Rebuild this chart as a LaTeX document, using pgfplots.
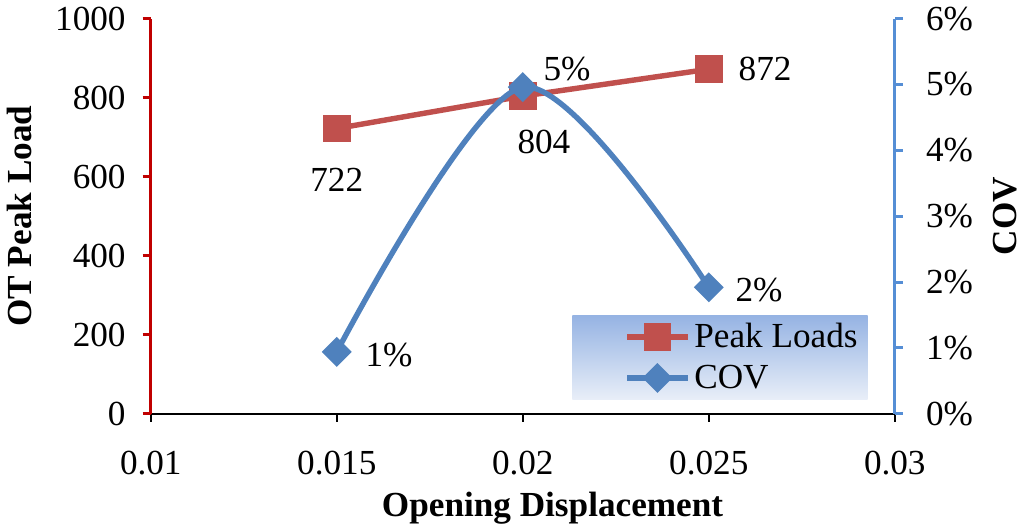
\documentclass[border=0pt]{standalone}
\usepackage{fontspec}
\setmainfont{Liberation Serif}
\usepackage{pgfplots}
\usepackage{pgfplotstable}
\pgfplotsset{compat=1.18}

\definecolor{loadred}{HTML}{C0504D}
\definecolor{covblue}{HTML}{4F81BD}
\definecolor{axred}{HTML}{C00000}
\definecolor{axblue}{HTML}{558ED5}
\definecolor{legtop}{HTML}{95B3E3}
\definecolor{legbot}{HTML}{E8EEF8}

% peak loads, with label offsets (pt)
\pgfplotstableread{
x     load  dx    dy     lab
0.015 722   0     -25.5  722
0.020 804   10.5  -23    804
0.025 872   28    0      872
}\loadtable

% COV in percent
\pgfplotstableread{
x     cov   dx   dy    lab
0.015 0.94  26   -1.5  1
0.020 4.96  22   9     5
0.025 1.92  25   -1.5  2
}\covtable

\pgfplotsset{
  common/.style={
    scale only axis, width=370pt, height=196.5pt,
    xmin=0.01, xmax=0.03,
    tick align=outside, major tick length=4pt,
    clip=false,
    scaled x ticks=false, scaled y ticks=false,
    /pgf/number format/assume math mode=true,
    /pgf/number format/1000 sep={},
  },
  labels/.style={
    visualization depends on={\thisrow{dx} \as \labdx},
    visualization depends on={\thisrow{dy} \as \labdy},
    nodes near coords style={anchor=center, xshift=\labdx, yshift=\labdy, text=black},
  },
}

\begin{document}
\begin{tikzpicture}[font=\fontsize{17.5}{20}\selectfont]
\begin{axis}[
  common,
  ymin=0, ymax=1000,
  axis x line*=bottom, axis y line*=left,
  xtick={0.01,0.015,0.02,0.025,0.03},
  xticklabels={0.01,0.015,0.02,0.025,0.03},
  ytick={0,200,...,1000},
  x axis line style={black, line width=1pt, -},
  y axis line style={axred, line width=1.5pt, -},
  x tick style={black, line width=1pt},
  y tick style={axred, line width=1.5pt},
  yticklabel style={xshift=-5pt},
  xticklabel style={yshift=-11pt},
  xlabel={\textbf{Opening Displacement}},
  ylabel={\textbf{OT Peak Load}},
  xlabel style={at={(rel axis cs:0.54,0)}, anchor=center, yshift=-47pt},
  ylabel style={at={(rel axis cs:0,0.5)}, anchor=center, rotate=0, yshift=65.5pt},
]
\addplot[loadred, line width=2.7pt, mark=square*, mark size=5.5pt,
  labels, nodes near coords, point meta=explicit symbolic]
  table[x=x, y=load, meta=lab] {\loadtable};
\end{axis}

\begin{axis}[
  common,
  ymin=0, ymax=6,
  axis x line=none, axis y line*=right,
  ytick={0,1,...,6},
  yticklabels={0\%,1\%,2\%,3\%,4\%,5\%,6\%},
  y axis line style={axblue, line width=1.5pt, -},
  y tick style={axblue, line width=1.5pt},
  yticklabel style={xshift=8pt},
  ylabel={\textbf{COV}},
  ylabel style={at={(rel axis cs:1,0.5)}, anchor=center, yshift=-55pt},
  legend style={at={(rel axis cs:0.964,0.036)}, anchor=south east,
    draw=none, top color=legtop, bottom color=legbot,
    inner xsep=3pt, inner ysep=2pt, row sep=3pt,
    font=\fontsize{17.5}{20}\selectfont},
  legend cell align=left,
  legend image code/.code={%
    \path (0pt,0pt);
    \draw[mark repeat=2, mark phase=2, #1]
      plot coordinates {(23pt,0pt) (38pt,0pt) (53pt,0pt)};},
]
\addlegendimage{loadred, line width=2.7pt, mark=square*, mark size=5.5pt}
\addlegendentry{Peak Loads}
\addplot[covblue, line width=2.7pt, smooth, mark=square*, mark size=3.9pt,
  mark options={rotate=45},
  labels, nodes near coords={\pgfplotspointmeta\%}, point meta=explicit symbolic]
  table[x=x, y=cov, meta=lab] {\covtable};
\addlegendentry{COV}
\end{axis}
\end{tikzpicture}
\end{document}
